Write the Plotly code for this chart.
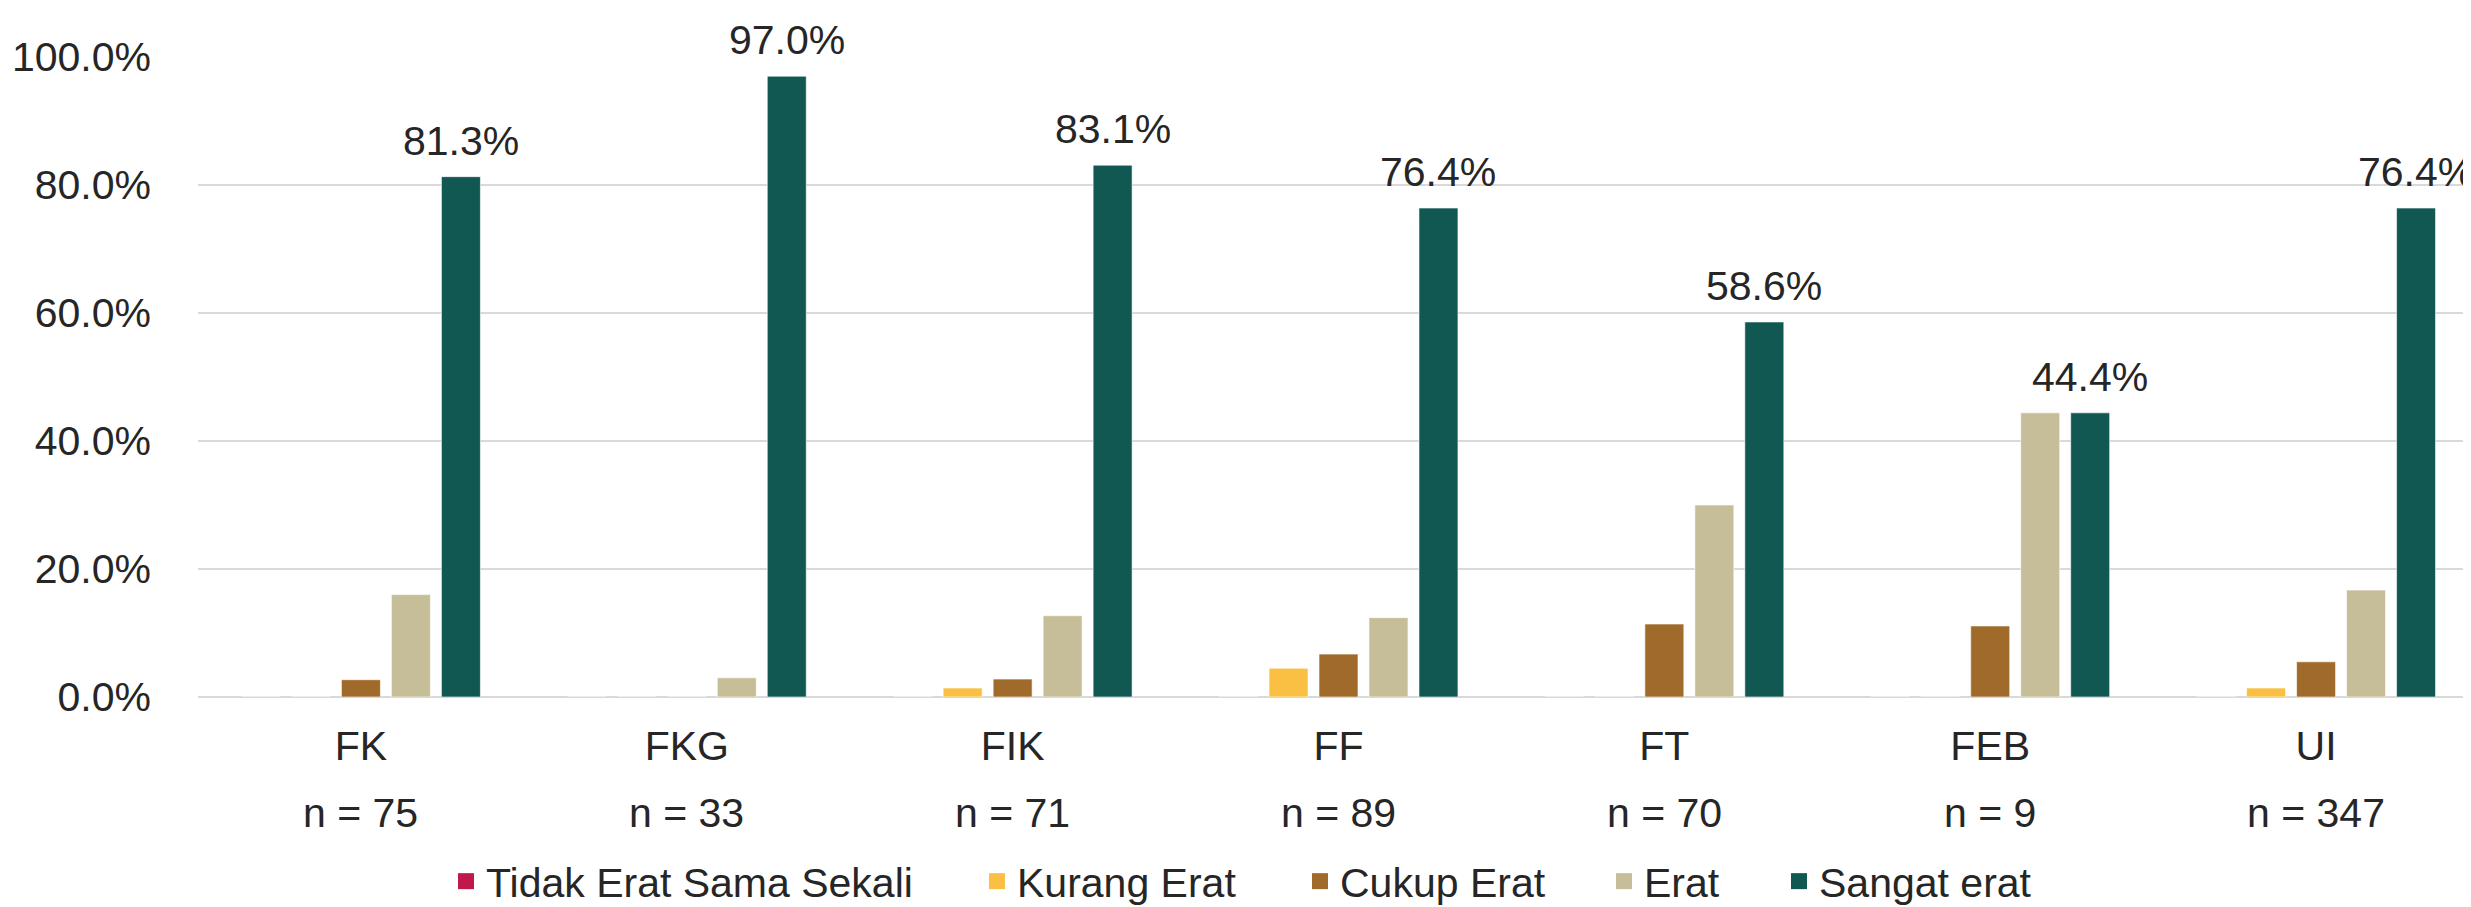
import plotly.graph_objects as go

categories = ["FK", "FKG", "FIK", "FF", "FT", "FEB", "UI"]
n_values = [75, 33, 71, 89, 70, 9, 347]

series_names = ["Tidak Erat Sama Sekali", "Kurang Erat", "Cukup Erat", "Erat", "Sangat erat"]
tidak_erat = [0.0, 0.0, 0.0, 0.0, 0.0, 0.0, 0.0]
kurang_erat = [0.0, 0.0, 1.4, 4.5, 0.0, 0.0, 1.4]
cukup_erat = [2.7, 0.0, 2.8, 6.7, 11.4, 11.1, 5.5]
erat = [16.0, 3.0, 12.7, 12.4, 30.0, 44.4, 16.7]
sangat_erat = [81.3, 97.0, 83.1, 76.4, 58.6, 44.4, 76.4]

colors = ["#C0184A", "#FAC043", "#A06A2A", "#C6BE98", "#115752"]
FONT = "Liberation Sans, Arial, sans-serif"
TXT = "#262626"
SIZE = 41

BARGAP = 0.233
BARGROUPGAP = 0.22
all_series = [tidak_erat, kurang_erat, cukup_erat, erat, sangat_erat]
n_series = len(all_series)

# left edges of the separate legend boxes (container fraction)
legend_x = [438 / 2471, 969 / 2471, 1292 / 2471, 1596 / 2471, 1771 / 2471]

fig = go.Figure()
for i, (name, vals, col) in enumerate(zip(series_names, all_series, colors)):
    fig.add_trace(go.Bar(
        x=categories, y=vals, name=name, showlegend=False,
        marker=dict(color=col, line=dict(color="rgba(255,255,255,0.6)", width=1)),
        textposition="none",
    ))
    lg = "legend" if i == 0 else f"legend{i + 1}"
    fig.add_trace(go.Scatter(
        x=[None], y=[None], mode="markers", name=name, legend=lg,
        marker=dict(symbol="square", size=24, color=col),
        showlegend=True, hoverinfo="skip",
    ))

# data labels for the "Sangat erat" series, centred above its bars
slot = (1 - BARGAP) / n_series
offset = (n_series - 1 - (n_series - 1) / 2) * slot
for i, v in enumerate(sangat_erat):
    fig.add_annotation(
        x=i + offset, y=v, xref="x", yref="y",
        text=f"{v:.1f}%", showarrow=False,
        yanchor="bottom", yshift=11,
        font=dict(family=FONT, size=SIZE, color=TXT),
    )

# n = ... sub-labels
for i, n in enumerate(n_values):
    fig.add_annotation(
        x=i, y=-0.182, xref="x", yref="paper",
        text=f"n = {n}", showarrow=False, yanchor="middle",
        font=dict(family=FONT, size=SIZE, color=TXT),
    )

legend_common = dict(
    orientation="h", xref="container", yref="container",
    xanchor="left", y=-0.008, yanchor="bottom",
    font=dict(family=FONT, size=SIZE, color=TXT),
    bgcolor="rgba(0,0,0,0)",
)
layout_legends = {}
for i, lx in enumerate(legend_x):
    key = "legend" if i == 0 else f"legend{i + 1}"
    layout_legends[key] = dict(legend_common, x=lx)

fig.update_layout(
    width=2471, height=907,
    margin=dict(l=190, r=0, t=49, b=218),
    paper_bgcolor="white", plot_bgcolor="white",
    barmode="group", bargap=BARGAP, bargroupgap=BARGROUPGAP,
    font=dict(family=FONT, size=SIZE, color=TXT),
    showlegend=True,
    **layout_legends,
)
fig.update_yaxes(
    range=[0, 100], tickvals=[0, 20, 40, 60, 80, 100],
    ticktext=["0.0%", "20.0%", "40.0%", "60.0%", "80.0%", "100.0%"],
    showgrid=True, gridcolor="#D9D9D9", gridwidth=2,
    zeroline=True, zerolinecolor="#D9D9D9", zerolinewidth=2,
    showline=False, ticks="", ticklabelstandoff=46,
    tickfont=dict(family=FONT, size=SIZE, color=TXT),
)
fig.update_xaxes(
    tickmode="array", tickvals=categories, ticktext=categories,
    showgrid=False, showline=False, ticks="", ticklabelstandoff=21,
    tickfont=dict(family=FONT, size=SIZE, color=TXT),
)

fig.write_html("out.html")
